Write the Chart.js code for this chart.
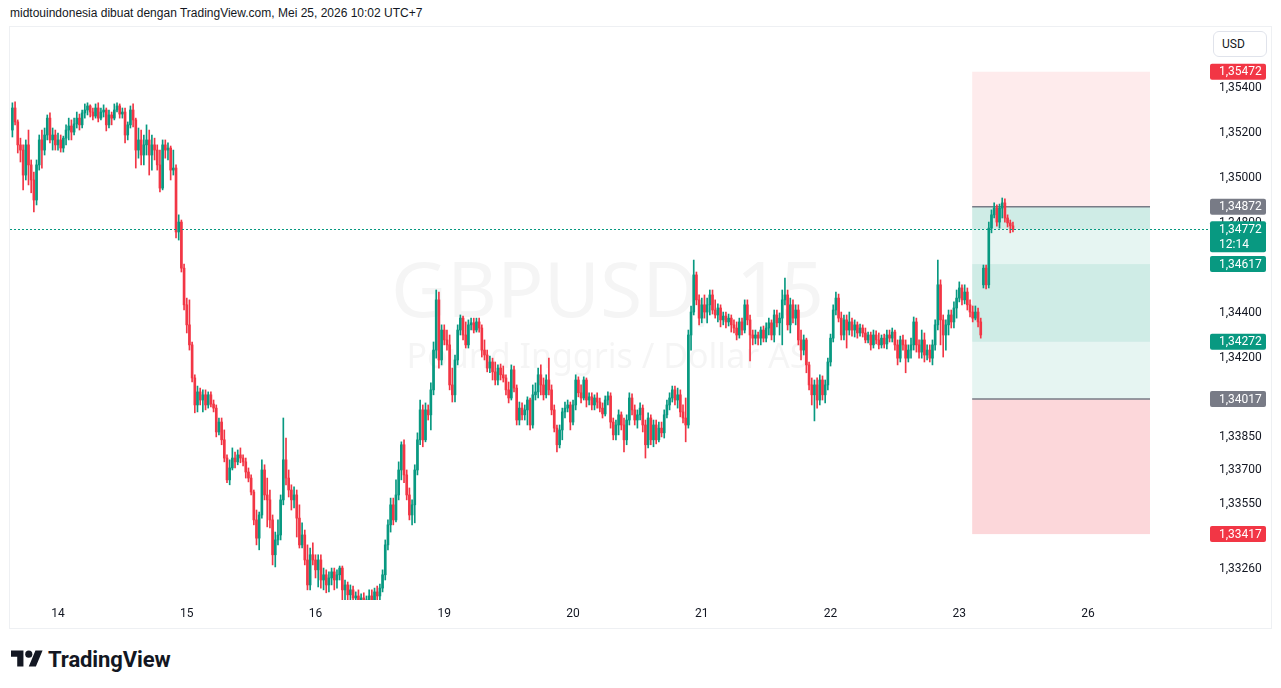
<!DOCTYPE html>
<html>
<head>
<meta charset="utf-8">
<script src="https://cdn.jsdelivr.net/npm/chart.js@4.4.1/dist/chart.umd.min.js"></script>
<style>
  html, body { margin:0; padding:0; background:#ffffff; }
  body { width:1281px; height:688px; overflow:hidden; position:relative; font-family:"Liberation Sans", Arial, sans-serif; }
  #hdr { position:absolute; left:10px; top:6px; font-size:12px; color:#131722; white-space:nowrap; }
  #frame { position:absolute; left:9px; top:26px; width:1263px; height:603px; box-sizing:border-box; border:1px solid #EEF0F3; }
  #pane { position:absolute; left:10px; top:27px; width:1261px; height:601px; }
  #usd { position:absolute; left:1213px; top:31px; width:54px; height:26px; box-sizing:border-box; border:1px solid #E0E3EB; border-radius:6px; background:#fff; font:12px Roboto, sans-serif; color:#131722; line-height:24px; padding-left:8px; }
  #logo { position:absolute; left:11px; top:645px; height:28px; display:flex; align-items:center; }
  #logo span { font:bold 22px Roboto, sans-serif; color:#131722; margin-left:5px; letter-spacing:-0.1px; }
</style>
</head>
<body>
<div id="hdr">midtouindonesia dibuat dengan TradingView.com, Mei 25, 2026 10:02 UTC+7</div>
<div id="frame"></div>
<div id="pane"><canvas id="c" width="1261" height="601" style="width:1261px;height:601px"></canvas></div>
<div id="usd">USD</div>
<div id="logo"><svg width="32" height="25" viewBox="0 0 36 28"><path fill="#131722" d="M14 22H7V11H0V4h14v18zM28 22h-8l7.5-18h8L28 22z"/><circle fill="#131722" cx="20" cy="8" r="4"/></svg><span>TradingView</span></div>
<script>
// ---- data (GBPUSD, 30-minute candles) ----
const dayTickIndex = [17, 65, 113, 161, 209, 257, 305, 353, 401];
const dayTickLabels = ['14', '15', '16', '19', '20', '21', '22', '23', '26'];
const priceTicks = [1.354, 1.352, 1.350, 1.348, 1.344, 1.342, 1.3385, 1.337, 1.3355, 1.3326];

const open = [
1.35213,1.35311,1.35249,1.35147,1.35124,1.35013,1.35147,1.35058,1.34991,1.34902,
1.35058,1.35169,1.35124,1.35191,1.35266,1.35169,1.35191,1.35147,1.35169,1.35133,
1.35177,1.35213,1.35231,1.35204,1.35240,1.35266,1.35236,1.35289,1.35302,1.35320,
1.35293,1.35275,1.35311,1.35266,1.35293,1.35302,1.35236,1.35280,1.35266,1.35302,
1.35320,1.35284,1.35293,1.35191,1.35236,1.35302,1.35258,1.35124,1.35169,1.35102,
1.35147,1.35169,1.35102,1.35147,1.35124,1.35058,1.34955,1.35147,1.35124,1.35133,
1.35035,1.35044,1.34760,1.34804,1.34599,1.34436,1.34347,1.34258,1.34111,1.33991,
1.34049,1.34013,1.34036,1.33991,1.34036,1.33995,1.33977,1.33871,1.33915,1.33836,
1.33755,1.33658,1.33711,1.33755,1.33738,1.33769,1.33755,1.33738,1.33693,1.33666,
1.33604,1.33480,1.33399,1.33502,1.33702,1.33591,1.33569,1.33480,1.33325,1.33391,
1.33413,1.33569,1.33747,1.33666,1.33613,1.33569,1.33591,1.33488,1.33369,1.33413,
1.33302,1.33191,1.33325,1.33302,1.33258,1.33302,1.33213,1.33236,1.33191,1.33222,
1.33249,1.33213,1.33236,1.33266,1.33169,1.33191,1.33147,1.33169,1.33133,1.33142,
1.33115,1.33133,1.33106,1.33124,1.33142,1.33124,1.33160,1.33142,1.33177,1.33236,
1.33369,1.33458,1.33547,1.33480,1.33591,1.33702,1.33814,1.33680,1.33591,1.33502,
1.33547,1.33702,1.33836,1.33969,1.33836,1.33969,1.33947,1.34058,1.34235,1.34458,
1.34191,1.34324,1.34280,1.34258,1.34080,1.34036,1.34191,1.34324,1.34377,1.34302,
1.34258,1.34347,1.34356,1.34324,1.34360,1.34333,1.34235,1.34213,1.34155,1.34182,
1.34138,1.34102,1.34155,1.34125,1.34111,1.34058,1.34022,1.34147,1.34066,1.33924,
1.33977,1.33947,1.33969,1.34013,1.33902,1.34036,1.34049,1.34125,1.34080,1.34036,
1.34102,1.34058,1.33969,1.33888,1.33814,1.33880,1.33960,1.33977,1.33991,1.33915,
1.33991,1.34102,1.34045,1.34022,1.34102,1.34013,1.34027,1.33991,1.34022,1.34004,
1.33977,1.33951,1.34013,1.34031,1.33915,1.33858,1.33902,1.33947,1.33902,1.33836,
1.33924,1.34022,1.33969,1.33924,1.33947,1.33977,1.33902,1.33814,1.33933,1.33836,
1.33902,1.33836,1.33888,1.33867,1.33947,1.33991,1.34022,1.34058,1.34013,1.34036,
1.33960,1.33933,1.33902,1.34302,1.34404,1.34569,1.34458,1.34377,1.34436,1.34404,
1.34436,1.34480,1.34413,1.34391,1.34422,1.34369,1.34386,1.34360,1.34377,1.34347,
1.34333,1.34302,1.34360,1.34324,1.34436,1.34369,1.34302,1.34288,1.34302,1.34288,
1.34324,1.34288,1.34333,1.34356,1.34302,1.34391,1.34356,1.34377,1.34458,1.34480,
1.34347,1.34436,1.34377,1.34413,1.34280,1.34235,1.34280,1.34169,1.34080,1.34036,
1.34080,1.34013,1.34102,1.34036,1.34080,1.34182,1.34288,1.34413,1.34466,1.34377,
1.34302,1.34369,1.34324,1.34360,1.34324,1.34347,1.34311,1.34333,1.34311,1.34280,
1.34302,1.34258,1.34302,1.34280,1.34258,1.34288,1.34262,1.34302,1.34288,1.34315,
1.34258,1.34199,1.34280,1.34258,1.34199,1.34235,1.34258,1.34360,1.34258,1.34226,
1.34280,1.34213,1.34235,1.34199,1.34258,1.34347,1.34525,1.34369,1.34302,1.34347,
1.34391,1.34360,1.34422,1.34466,1.34511,1.34458,1.34493,1.34436,1.34404,1.34377,
1.34404,1.34360,1.34525,1.34599,1.34525,1.34777,1.34836,1.34866,1.34804,1.34866,
1.34889,1.34822,1.34800,1.34787
];
const high = [
1.35334,1.35338,1.35258,1.35177,1.35147,1.35169,1.35213,1.35080,1.35026,1.35080,
1.35191,1.35213,1.35222,1.35280,1.35289,1.35222,1.35213,1.35200,1.35191,1.35186,
1.35236,1.35266,1.35258,1.35266,1.35293,1.35284,1.35302,1.35329,1.35334,1.35325,
1.35311,1.35329,1.35334,1.35311,1.35325,1.35311,1.35302,1.35293,1.35329,1.35334,
1.35329,1.35311,1.35311,1.35249,1.35320,1.35329,1.35266,1.35222,1.35213,1.35191,
1.35236,1.35213,1.35191,1.35177,1.35147,1.35124,1.35169,1.35169,1.35156,1.35142,
1.35124,1.35058,1.34836,1.34813,1.34617,1.34466,1.34458,1.34271,1.34125,1.34075,
1.34066,1.34058,1.34058,1.34049,1.34049,1.34013,1.33991,1.33933,1.33933,1.33880,
1.33769,1.33747,1.33800,1.33782,1.33791,1.33800,1.33769,1.33755,1.33711,1.33680,
1.33613,1.33524,1.33515,1.33747,1.33725,1.33666,1.33613,1.33502,1.33426,1.33480,
1.33591,1.33933,1.33844,1.33702,1.33636,1.33627,1.33613,1.33547,1.33467,1.33435,
1.33369,1.33355,1.33378,1.33325,1.33325,1.33325,1.33266,1.33258,1.33249,1.33266,
1.33266,1.33258,1.33275,1.33275,1.33213,1.33204,1.33191,1.33186,1.33160,1.33169,
1.33151,1.33156,1.33142,1.33169,1.33169,1.33177,1.33186,1.33195,1.33258,1.33391,
1.33480,1.33577,1.33577,1.33658,1.33738,1.33827,1.33836,1.33702,1.33622,1.33569,
1.33725,1.33867,1.34013,1.33991,1.34000,1.33991,1.34089,1.34271,1.34502,1.34493,
1.34347,1.34347,1.34324,1.34302,1.34155,1.34213,1.34347,1.34391,1.34386,1.34360,
1.34369,1.34377,1.34377,1.34377,1.34377,1.34347,1.34280,1.34235,1.34208,1.34199,
1.34182,1.34169,1.34173,1.34164,1.34125,1.34093,1.34169,1.34164,1.34080,1.34004,
1.34000,1.33991,1.34027,1.34022,1.34080,1.34089,1.34155,1.34169,1.34111,1.34125,
1.34199,1.34080,1.33991,1.33902,1.33902,1.33977,1.34004,1.34013,1.34004,1.34013,
1.34125,1.34116,1.34080,1.34116,1.34111,1.34045,1.34045,1.34036,1.34045,1.34022,
1.34000,1.34031,1.34049,1.34045,1.33933,1.33924,1.33969,1.33960,1.33933,1.33947,
1.34045,1.34040,1.33991,1.33969,1.34000,1.33991,1.33924,1.33956,1.33947,1.33924,
1.33924,1.33915,1.33915,1.33969,1.34013,1.34045,1.34075,1.34075,1.34066,1.34058,
1.33991,1.34022,1.34324,1.34431,1.34635,1.34582,1.34480,1.34466,1.34480,1.34466,
1.34502,1.34502,1.34458,1.34440,1.34436,1.34404,1.34404,1.34395,1.34391,1.34369,
1.34360,1.34377,1.34377,1.34458,1.34458,1.34391,1.34324,1.34324,1.34315,1.34338,
1.34342,1.34356,1.34377,1.34369,1.34413,1.34413,1.34400,1.34502,1.34555,1.34502,
1.34466,1.34458,1.34436,1.34436,1.34324,1.34302,1.34288,1.34182,1.34111,1.34102,
1.34111,1.34125,1.34120,1.34102,1.34199,1.34306,1.34436,1.34493,1.34484,1.34404,
1.34391,1.34391,1.34404,1.34377,1.34369,1.34360,1.34351,1.34347,1.34333,1.34315,
1.34315,1.34324,1.34320,1.34311,1.34302,1.34306,1.34324,1.34324,1.34333,1.34324,
1.34280,1.34297,1.34302,1.34280,1.34258,1.34288,1.34382,1.34377,1.34280,1.34324,
1.34311,1.34258,1.34258,1.34280,1.34369,1.34635,1.34547,1.34391,1.34369,1.34413,
1.34413,1.34449,1.34502,1.34538,1.34525,1.34525,1.34511,1.34458,1.34431,1.34431,
1.34422,1.34377,1.34613,1.34613,1.34804,1.34858,1.34889,1.34880,1.34884,1.34911,
1.34907,1.34836,1.34813,1.34804
];
const low = [
1.35182,1.35236,1.35111,1.35071,1.34947,1.34991,1.34969,1.34934,1.34849,1.34880,
1.35035,1.35044,1.35102,1.35169,1.35156,1.35124,1.35124,1.35124,1.35115,1.35115,
1.35147,1.35169,1.35169,1.35191,1.35222,1.35213,1.35222,1.35266,1.35280,1.35271,
1.35258,1.35266,1.35249,1.35258,1.35271,1.35209,1.35222,1.35236,1.35258,1.35293,
1.35266,1.35266,1.35156,1.35169,1.35222,1.35227,1.35044,1.35088,1.35058,1.35058,
1.35102,1.35013,1.35035,1.35080,1.35035,1.34938,1.34947,1.35088,1.35080,1.34991,
1.35013,1.34733,1.34724,1.34582,1.34413,1.34311,1.34235,1.34093,1.33956,1.33960,
1.33991,1.33960,1.33969,1.33977,1.33982,1.33960,1.33849,1.33858,1.33814,1.33738,
1.33645,1.33636,1.33702,1.33711,1.33725,1.33734,1.33720,1.33666,1.33649,1.33591,
1.33458,1.33369,1.33347,1.33488,1.33569,1.33449,1.33444,1.33280,1.33271,1.33369,
1.33391,1.33547,1.33636,1.33582,1.33524,1.33533,1.33404,1.33355,1.33355,1.33280,
1.33169,1.33169,1.33280,1.33222,1.33182,1.33177,1.33169,1.33156,1.33160,1.33191,
1.33169,1.33177,1.33213,1.33124,1.33102,1.33097,1.33097,1.33080,1.33080,1.33071,
1.33071,1.33062,1.33071,1.33097,1.33088,1.33097,1.33106,1.33115,1.33160,1.33213,
1.33347,1.33426,1.33458,1.33471,1.33569,1.33658,1.33645,1.33569,1.33480,1.33458,
1.33467,1.33680,1.33814,1.33805,1.33827,1.33924,1.33880,1.34036,1.34199,1.34155,
1.34169,1.34258,1.34235,1.34058,1.34004,1.34004,1.34169,1.34302,1.34280,1.34244,
1.34244,1.34324,1.34311,1.34315,1.34315,1.34204,1.34191,1.34138,1.34134,1.34102,
1.34080,1.34080,1.34102,1.34093,1.34036,1.34000,1.34013,1.34049,1.33902,1.33902,
1.33924,1.33924,1.33902,1.33880,1.33888,1.34013,1.34022,1.34036,1.34013,1.34022,
1.34036,1.33947,1.33871,1.33782,1.33800,1.33836,1.33933,1.33960,1.33880,1.33902,
1.33969,1.34027,1.34000,1.34013,1.33982,1.33991,1.33969,1.33969,1.33977,1.33960,
1.33933,1.33942,1.33991,1.33888,1.33836,1.33836,1.33858,1.33880,1.33782,1.33814,
1.33902,1.33947,1.33902,1.33888,1.33924,1.33871,1.33755,1.33800,1.33814,1.33805,
1.33818,1.33827,1.33849,1.33844,1.33933,1.33969,1.34004,1.33991,1.33977,1.33938,
1.33911,1.33827,1.33888,1.34235,1.34391,1.34436,1.34347,1.34356,1.34377,1.34356,
1.34391,1.34395,1.34377,1.34360,1.34338,1.34347,1.34333,1.34342,1.34315,1.34311,
1.34280,1.34288,1.34302,1.34311,1.34347,1.34187,1.34258,1.34262,1.34258,1.34258,
1.34271,1.34271,1.34302,1.34280,1.34271,1.34338,1.34302,1.34258,1.34436,1.34324,
1.34311,1.34356,1.34347,1.34258,1.34191,1.34213,1.34134,1.34058,1.33991,1.33920,
1.33977,1.33991,1.34013,1.34000,1.34058,1.34164,1.34271,1.34391,1.34360,1.34280,
1.34280,1.34244,1.34302,1.34297,1.34293,1.34288,1.34297,1.34293,1.34267,1.34267,
1.34235,1.34244,1.34262,1.34240,1.34244,1.34244,1.34240,1.34271,1.34271,1.34235,
1.34169,1.34182,1.34235,1.34134,1.34182,1.34199,1.34235,1.34226,1.34199,1.34199,
1.34182,1.34191,1.34182,1.34169,1.34235,1.34324,1.34258,1.34204,1.34235,1.34302,
1.34333,1.34333,1.34377,1.34449,1.34436,1.34440,1.34413,1.34382,1.34360,1.34369,
1.34338,1.34288,1.34511,1.34507,1.34511,1.34756,1.34822,1.34786,1.34777,1.34822,
1.34804,1.34782,1.34756,1.34760
];
const close = [
1.35311,1.35249,1.35147,1.35124,1.35013,1.35147,1.35058,1.34991,1.34902,1.35058,
1.35169,1.35124,1.35191,1.35266,1.35169,1.35191,1.35147,1.35169,1.35133,1.35177,
1.35213,1.35231,1.35204,1.35240,1.35266,1.35236,1.35289,1.35302,1.35320,1.35293,
1.35275,1.35311,1.35266,1.35293,1.35302,1.35236,1.35280,1.35266,1.35302,1.35320,
1.35284,1.35293,1.35191,1.35236,1.35302,1.35258,1.35124,1.35169,1.35102,1.35147,
1.35169,1.35102,1.35147,1.35124,1.35058,1.34955,1.35147,1.35124,1.35133,1.35035,
1.35044,1.34760,1.34804,1.34599,1.34436,1.34347,1.34258,1.34111,1.33991,1.34049,
1.34013,1.34036,1.33991,1.34036,1.33995,1.33977,1.33871,1.33915,1.33836,1.33755,
1.33658,1.33711,1.33755,1.33738,1.33769,1.33755,1.33738,1.33693,1.33666,1.33604,
1.33480,1.33399,1.33502,1.33702,1.33591,1.33569,1.33480,1.33325,1.33391,1.33413,
1.33569,1.33747,1.33666,1.33613,1.33569,1.33591,1.33488,1.33369,1.33413,1.33302,
1.33191,1.33325,1.33302,1.33258,1.33302,1.33213,1.33236,1.33191,1.33222,1.33249,
1.33213,1.33236,1.33266,1.33169,1.33191,1.33147,1.33169,1.33133,1.33142,1.33115,
1.33133,1.33106,1.33124,1.33142,1.33124,1.33160,1.33142,1.33177,1.33236,1.33369,
1.33458,1.33547,1.33480,1.33591,1.33702,1.33814,1.33680,1.33591,1.33502,1.33547,
1.33702,1.33836,1.33969,1.33836,1.33969,1.33947,1.34058,1.34235,1.34458,1.34191,
1.34324,1.34280,1.34258,1.34080,1.34036,1.34191,1.34324,1.34377,1.34302,1.34258,
1.34347,1.34356,1.34324,1.34360,1.34333,1.34235,1.34213,1.34155,1.34182,1.34138,
1.34102,1.34155,1.34125,1.34111,1.34058,1.34022,1.34147,1.34066,1.33924,1.33977,
1.33947,1.33969,1.34013,1.33902,1.34036,1.34049,1.34125,1.34080,1.34036,1.34102,
1.34058,1.33969,1.33888,1.33814,1.33880,1.33960,1.33977,1.33991,1.33915,1.33991,
1.34102,1.34045,1.34022,1.34102,1.34013,1.34027,1.33991,1.34022,1.34004,1.33977,
1.33951,1.34013,1.34031,1.33915,1.33858,1.33902,1.33947,1.33902,1.33836,1.33924,
1.34022,1.33969,1.33924,1.33947,1.33977,1.33902,1.33814,1.33933,1.33836,1.33902,
1.33836,1.33888,1.33867,1.33947,1.33991,1.34022,1.34058,1.34013,1.34036,1.33960,
1.33933,1.33902,1.34302,1.34404,1.34569,1.34458,1.34377,1.34436,1.34404,1.34436,
1.34480,1.34413,1.34391,1.34422,1.34369,1.34386,1.34360,1.34377,1.34347,1.34333,
1.34302,1.34360,1.34324,1.34436,1.34369,1.34302,1.34288,1.34302,1.34288,1.34324,
1.34288,1.34333,1.34356,1.34302,1.34391,1.34356,1.34377,1.34458,1.34480,1.34347,
1.34436,1.34377,1.34413,1.34280,1.34235,1.34280,1.34169,1.34080,1.34036,1.34080,
1.34013,1.34102,1.34036,1.34080,1.34182,1.34288,1.34413,1.34466,1.34377,1.34302,
1.34369,1.34324,1.34360,1.34324,1.34347,1.34311,1.34333,1.34311,1.34280,1.34302,
1.34258,1.34302,1.34280,1.34258,1.34288,1.34262,1.34302,1.34288,1.34315,1.34258,
1.34199,1.34280,1.34258,1.34199,1.34235,1.34258,1.34360,1.34258,1.34226,1.34280,
1.34213,1.34235,1.34199,1.34258,1.34347,1.34525,1.34369,1.34302,1.34347,1.34391,
1.34360,1.34422,1.34466,1.34511,1.34458,1.34493,1.34436,1.34404,1.34377,1.34404,
1.34360,1.34302,1.34599,1.34525,1.34777,1.34836,1.34866,1.34804,1.34866,1.34889,
1.34822,1.34800,1.34787,1.34772
];

// position-tool levels (prices) and its time span (candle slots)
const stopPrice = 1.35472, entryPrice = 1.34872, lastPrice = 1.34772;
const innerTop = 1.34617, innerBottom = 1.34272, targetPrice = 1.34017, lowerStop = 1.33417;
const toolStartSlot = 357.8, toolEndSlot = 424.1;
const lastTimeLabel = '12:14';
const symbolTitle = 'GBPUSD, 15';
const symbolName = 'Pound Inggris / Dollar AS';

// ---- styling ----
const GREEN = '#089981', RED = '#F23645', GRAY = '#787B86', INK = '#131722';
const AXIS_FONT = 'Roboto';

const slots = close.map((_, i) => i);
const isUp = close.map((c, i) => c >= open[i]);
const candleColors = isUp.map(u => u ? GREEN : RED);

const fmt = v => v.toFixed(5).replace('.', ',');

const zones = [
  { from: stopPrice, to: entryPrice, color: 'rgba(242,54,69,0.10)' },
  { from: entryPrice, to: targetPrice, color: 'rgba(8,153,129,0.10)' },
  { from: entryPrice, to: lastPrice, color: 'rgba(8,153,129,0.10)' },
  { from: innerTop, to: innerBottom, color: 'rgba(8,153,129,0.10)' },
  { from: targetPrice, to: lowerStop, color: 'rgba(242,54,69,0.20)' }
];
const tags = [
  { value: stopPrice, color: RED },
  { value: entryPrice, color: GRAY },
  { value: innerTop, color: GREEN },
  { value: innerBottom, color: GREEN },
  { value: targetPrice, color: GRAY },
  { value: lowerStop, color: RED },
  { value: lastPrice, color: GREEN, sub: lastTimeLabel }
];

const overlay = {
  id: 'overlay',
  beforeDatasetsDraw(chart) {
    const { ctx, chartArea: a, scales: { x, y } } = chart;
    ctx.save();
    ctx.beginPath(); ctx.rect(a.left, a.top, a.right - a.left, a.bottom - a.top); ctx.clip();
    // watermark
    const cx = (a.left + a.right) / 2;
    ctx.fillStyle = 'rgba(19,23,34,0.045)';
    ctx.textAlign = 'center'; ctx.textBaseline = 'alphabetic';
    ctx.font = '77px "Noto Sans"';
    ctx.fillText(symbolTitle, cx, 290);
    ctx.font = '34px "Noto Sans"';
    ctx.fillText(symbolName, cx, 341);
    // position tool zones
    const x0 = x.getPixelForValue(toolStartSlot), x1 = x.getPixelForValue(toolEndSlot);
    zones.forEach(z => {
      const ya = y.getPixelForValue(z.from), yb = y.getPixelForValue(z.to);
      ctx.fillStyle = z.color;
      ctx.fillRect(x0, Math.min(ya, yb), x1 - x0, Math.abs(yb - ya));
    });
    ctx.strokeStyle = GRAY; ctx.lineWidth = 1.5;
    [entryPrice, targetPrice].forEach(p => {
      const py = y.getPixelForValue(p);
      ctx.beginPath(); ctx.moveTo(x0, py); ctx.lineTo(x1, py); ctx.stroke();
    });
    ctx.restore();
  },
  afterDatasetsDraw(chart) {
    const { ctx, chartArea: a, scales: { y } } = chart;
    const py = Math.round(y.getPixelForValue(lastPrice)) + 0.5;
    ctx.save();
    ctx.strokeStyle = GREEN; ctx.lineWidth = 1; ctx.setLineDash([2, 2]);
    ctx.beginPath(); ctx.moveTo(a.left, py); ctx.lineTo(a.right + 5, py); ctx.stroke();
    ctx.restore();
  },
  afterDraw(chart) {
    const { ctx, chartArea: a, scales: { y } } = chart;
    ctx.save();
    const left = a.right + 5, w = 56;
    ctx.font = '12px ' + AXIS_FONT;
    ctx.textAlign = 'left'; ctx.textBaseline = 'middle';
    tags.forEach(t => {
      const py = y.getPixelForValue(t.value);
      const h = t.sub ? 31 : 16;
      ctx.fillStyle = t.color;
      ctx.beginPath();
      if (ctx.roundRect) ctx.roundRect(left, py - 8, w, h, 2); else ctx.rect(left, py - 8, w, h);
      ctx.fill();
      ctx.fillStyle = '#ffffff';
      ctx.fillText(fmt(t.value), left + 9, py + 0.5);
      if (t.sub) ctx.fillText(t.sub, left + 9, py + 15.5);
    });
    ctx.restore();
  }
};

new Chart(document.getElementById('c'), {
  type: 'bar',
  data: {
    datasets: [
      {
        label: 'body',
        data: slots.map(i => ({ x: i, y: [open[i], close[i]] })),
        backgroundColor: candleColors,
        barThickness: 2,
        minBarLength: 1,
        grouped: false,
        order: 1
      },
      {
        label: 'wick',
        data: slots.map(i => ({ x: i, y: [low[i], high[i]] })),
        backgroundColor: candleColors,
        barThickness: 1,
        grouped: false,
        order: 2
      }
    ]
  },
  options: {
    responsive: false,
    animation: false,
    devicePixelRatio: 1,
    events: [],
    layout: { padding: 0 },
    plugins: { legend: { display: false }, tooltip: { enabled: false } },
    scales: {
      x: {
        type: 'linear',
        min: -0.895,
        max: 444.6,
        offset: false,
        grid: { display: false, drawTicks: false },
        border: { display: false },
        afterBuildTicks: s => { s.ticks = dayTickIndex.map(v => ({ value: v })); },
        afterFit: s => { s.height = 28; s.paddingLeft = 0; s.paddingRight = 0; },
        ticks: {
          autoSkip: false, maxRotation: 0, padding: 7, color: INK,
          font: { family: AXIS_FONT, size: 12 },
          callback: (v, i) => dayTickLabels[i]
        }
      },
      y: {
        position: 'right',
        min: 1.33124,
        max: 1.35671,
        grid: { display: false, drawTicks: false },
        border: { display: false },
        afterBuildTicks: s => { s.ticks = priceTicks.map(v => ({ value: v })); },
        afterFit: s => { s.width = 66; s.paddingTop = 0; s.paddingBottom = 0; },
        ticks: {
          autoSkip: false, padding: 14, color: INK,
          font: { family: AXIS_FONT, size: 12 },
          callback: v => fmt(v)
        }
      }
    }
  },
  plugins: [overlay]
});
</script>
</body>
</html>
